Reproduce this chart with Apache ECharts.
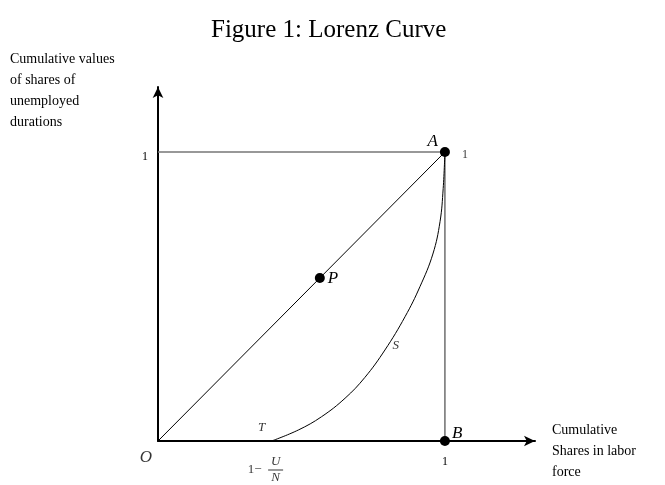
<!DOCTYPE html>
<html>
<head>
<meta charset="utf-8">
<script src="https://cdn.jsdelivr.net/npm/echarts@6/dist/echarts.min.js"></script>
<style>
  html, body { margin: 0; padding: 0; background: #fff; }
  #chart { width: 665px; height: 485px; }
</style>
</head>
<body>
<div id="chart"></div>
<script>
// Lorenz curve (share of labor force -> cumulative share of durations)
const curveX = [0.396, 0.489, 0.57, 0.652, 0.721, 0.791, 0.861, 0.913, 0.958, 0.983, 0.994, 1.0]
const curveY = [0, 0.038, 0.084, 0.148, 0.22, 0.315, 0.43, 0.534, 0.647, 0.759, 0.874, 1.0]

// equality line and the unit square
const diagX = [0, 1]
const diagY = [0, 1]
const boxX = [0, 1, 1]
const boxY = [1, 1, 0]

// labelled dots
const dotNames = ['A', 'B', 'P']
const dotX = [1, 1, 0.564]
const dotY = [1, 0, 0.564]

// letters without dots
const letterNames = ['O', 'T', 'S']
const letterX = [0, 0.396, 0.829]
const letterY = [0, 0, 0.329]

const tickLabels = ['1']
const tNote = '1−'

const serif = 'Liberation Serif'

const chart = echarts.init(document.getElementById('chart'))

const dotOffsets = { A: [-7, -10], B: [7, -7], P: [8, 1] }
const dotAlign = { A: 'right', B: 'left', P: 'left' }
const letterOffsets = { O: [-12, 17], T: [-10, -13], S: [0, 0] }
const letterSize = { O: 17, T: 13, S: 13 }

chart.setOption({
  animation: false,
  title: {
    text: 'Figure 1: Lorenz Curve',
    left: 206,
    top: 13,
    textStyle: { fontFamily: serif, fontSize: 25, fontWeight: 'normal', color: '#000' }
  },
  graphic: [
    {
      type: 'text',
      left: 10,
      top: 49,
      style: {
        text: 'Cumulative values\nof shares of\nunemployed\ndurations',
        font: '14px "Liberation Serif"',
        lineHeight: 21,
        fill: '#000'
      }
    },
    {
      type: 'text',
      left: 552,
      top: 420,
      style: {
        text: 'Cumulative\nShares in labor\nforce',
        font: '14px "Liberation Serif"',
        lineHeight: 21,
        fill: '#000'
      }
    }
  ],
  grid: { left: 158, right: 130, top: 87, bottom: 44 },
  xAxis: {
    type: 'value',
    min: 0,
    max: 1.314,
    interval: 1,
    splitLine: { show: false },
    axisTick: { show: false },
    axisLine: {
      onZero: false,
      symbol: ['none', 'arrow'],
      symbolSize: [8, 11],
      lineStyle: { color: '#000', width: 2 }
    },
    axisLabel: {
      margin: 15,
      fontFamily: serif,
      fontSize: 12,
      color: '#000',
      formatter: v => (v === 1 ? tickLabels[0] : '')
    }
  },
  yAxis: {
    type: 'value',
    min: 0,
    max: 1.225,
    interval: 1,
    splitLine: { show: false },
    axisTick: { show: false },
    axisLine: {
      onZero: false,
      symbol: ['none', 'arrow'],
      symbolSize: [8, 11],
      lineStyle: { color: '#000', width: 2 }
    },
    axisLabel: {
      margin: 10,
      fontFamily: serif,
      fontSize: 12,
      color: '#000',
      verticalAlign: 'top',
      padding: [-1, 0, 0, 0],
      formatter: v => (v === 1 ? tickLabels[0] : '')
    }
  },
  series: [
    {
      name: 'box',
      type: 'line',
      data: boxX.map((x, i) => [x, boxY[i]]),
      symbol: 'none',
      lineStyle: { color: '#777', width: 1.6 },
      z: 2
    },
    {
      name: 'equality',
      type: 'line',
      data: diagX.map((x, i) => [x, diagY[i]]),
      symbol: 'none',
      lineStyle: { color: '#000', width: 1 },
      z: 3
    },
    {
      name: 'lorenz',
      type: 'line',
      smooth: 0.4,
      data: curveX.map((x, i) => [x, curveY[i]]),
      symbol: 'none',
      lineStyle: { color: '#000', width: 1 },
      z: 3
    },
    {
      name: 'dots',
      type: 'scatter',
      symbolSize: 10,
      itemStyle: { color: '#000', opacity: 1 },
      data: dotNames.map((n, i) => ({
        name: n,
        value: [dotX[i], dotY[i]],
        label: {
          show: true,
          formatter: '{b}',
          position: 'inside',
          offset: dotOffsets[n],
          align: dotAlign[n],
          fontFamily: serif,
          fontStyle: 'italic',
          fontSize: 17,
          color: '#000'
        }
      })),
      z: 5
    },
    {
      name: 'right one',
      type: 'scatter',
      symbolSize: 0,
      data: [{
        value: [dotX[0], dotY[0]],
        label: {
          show: true,
          formatter: tickLabels[0],
          position: 'inside',
          offset: [20, 3],
          fontFamily: serif,
          fontSize: 12,
          color: '#000'
        }
      }],
      z: 5
    },
    {
      name: 'letters',
      type: 'scatter',
      symbolSize: 0,
      data: letterNames.map((n, i) => ({
        name: n,
        value: [letterX[i], letterY[i]],
        label: {
          show: true,
          formatter: '{b}',
          position: 'inside',
          offset: letterOffsets[n],
          fontFamily: serif,
          fontStyle: 'italic',
          fontSize: letterSize[n],
          color: '#000'
        }
      })),
      z: 5
    },
    {
      name: 'fraction',
      type: 'scatter',
      symbolSize: 0,
      data: [
        {
          value: [letterX[1], letterY[1]],
          label: {
            show: true,
            position: 'inside',
            offset: [-17, 29],
            formatter: tNote,
            fontFamily: serif,
            fontSize: 13,
            color: '#000'
          }
        },
        {
          value: [letterX[1], letterY[1]],
          label: {
            show: true,
            position: 'inside',
            offset: [4, 29],
            formatter: '{u|U}\n{b|}\n{n|N}',
            rich: {
              u: { fontFamily: serif, fontStyle: 'italic', fontSize: 13, lineHeight: 13, color: '#000', align: 'center' },
              b: { width: 15, height: 1, lineHeight: 3, backgroundColor: '#000', align: 'center' },
              n: { fontFamily: serif, fontStyle: 'italic', fontSize: 13, lineHeight: 13, color: '#000', align: 'center' }
            }
          }
        }
      ],
      z: 5
    }
  ]
})
</script>
</body>
</html>
